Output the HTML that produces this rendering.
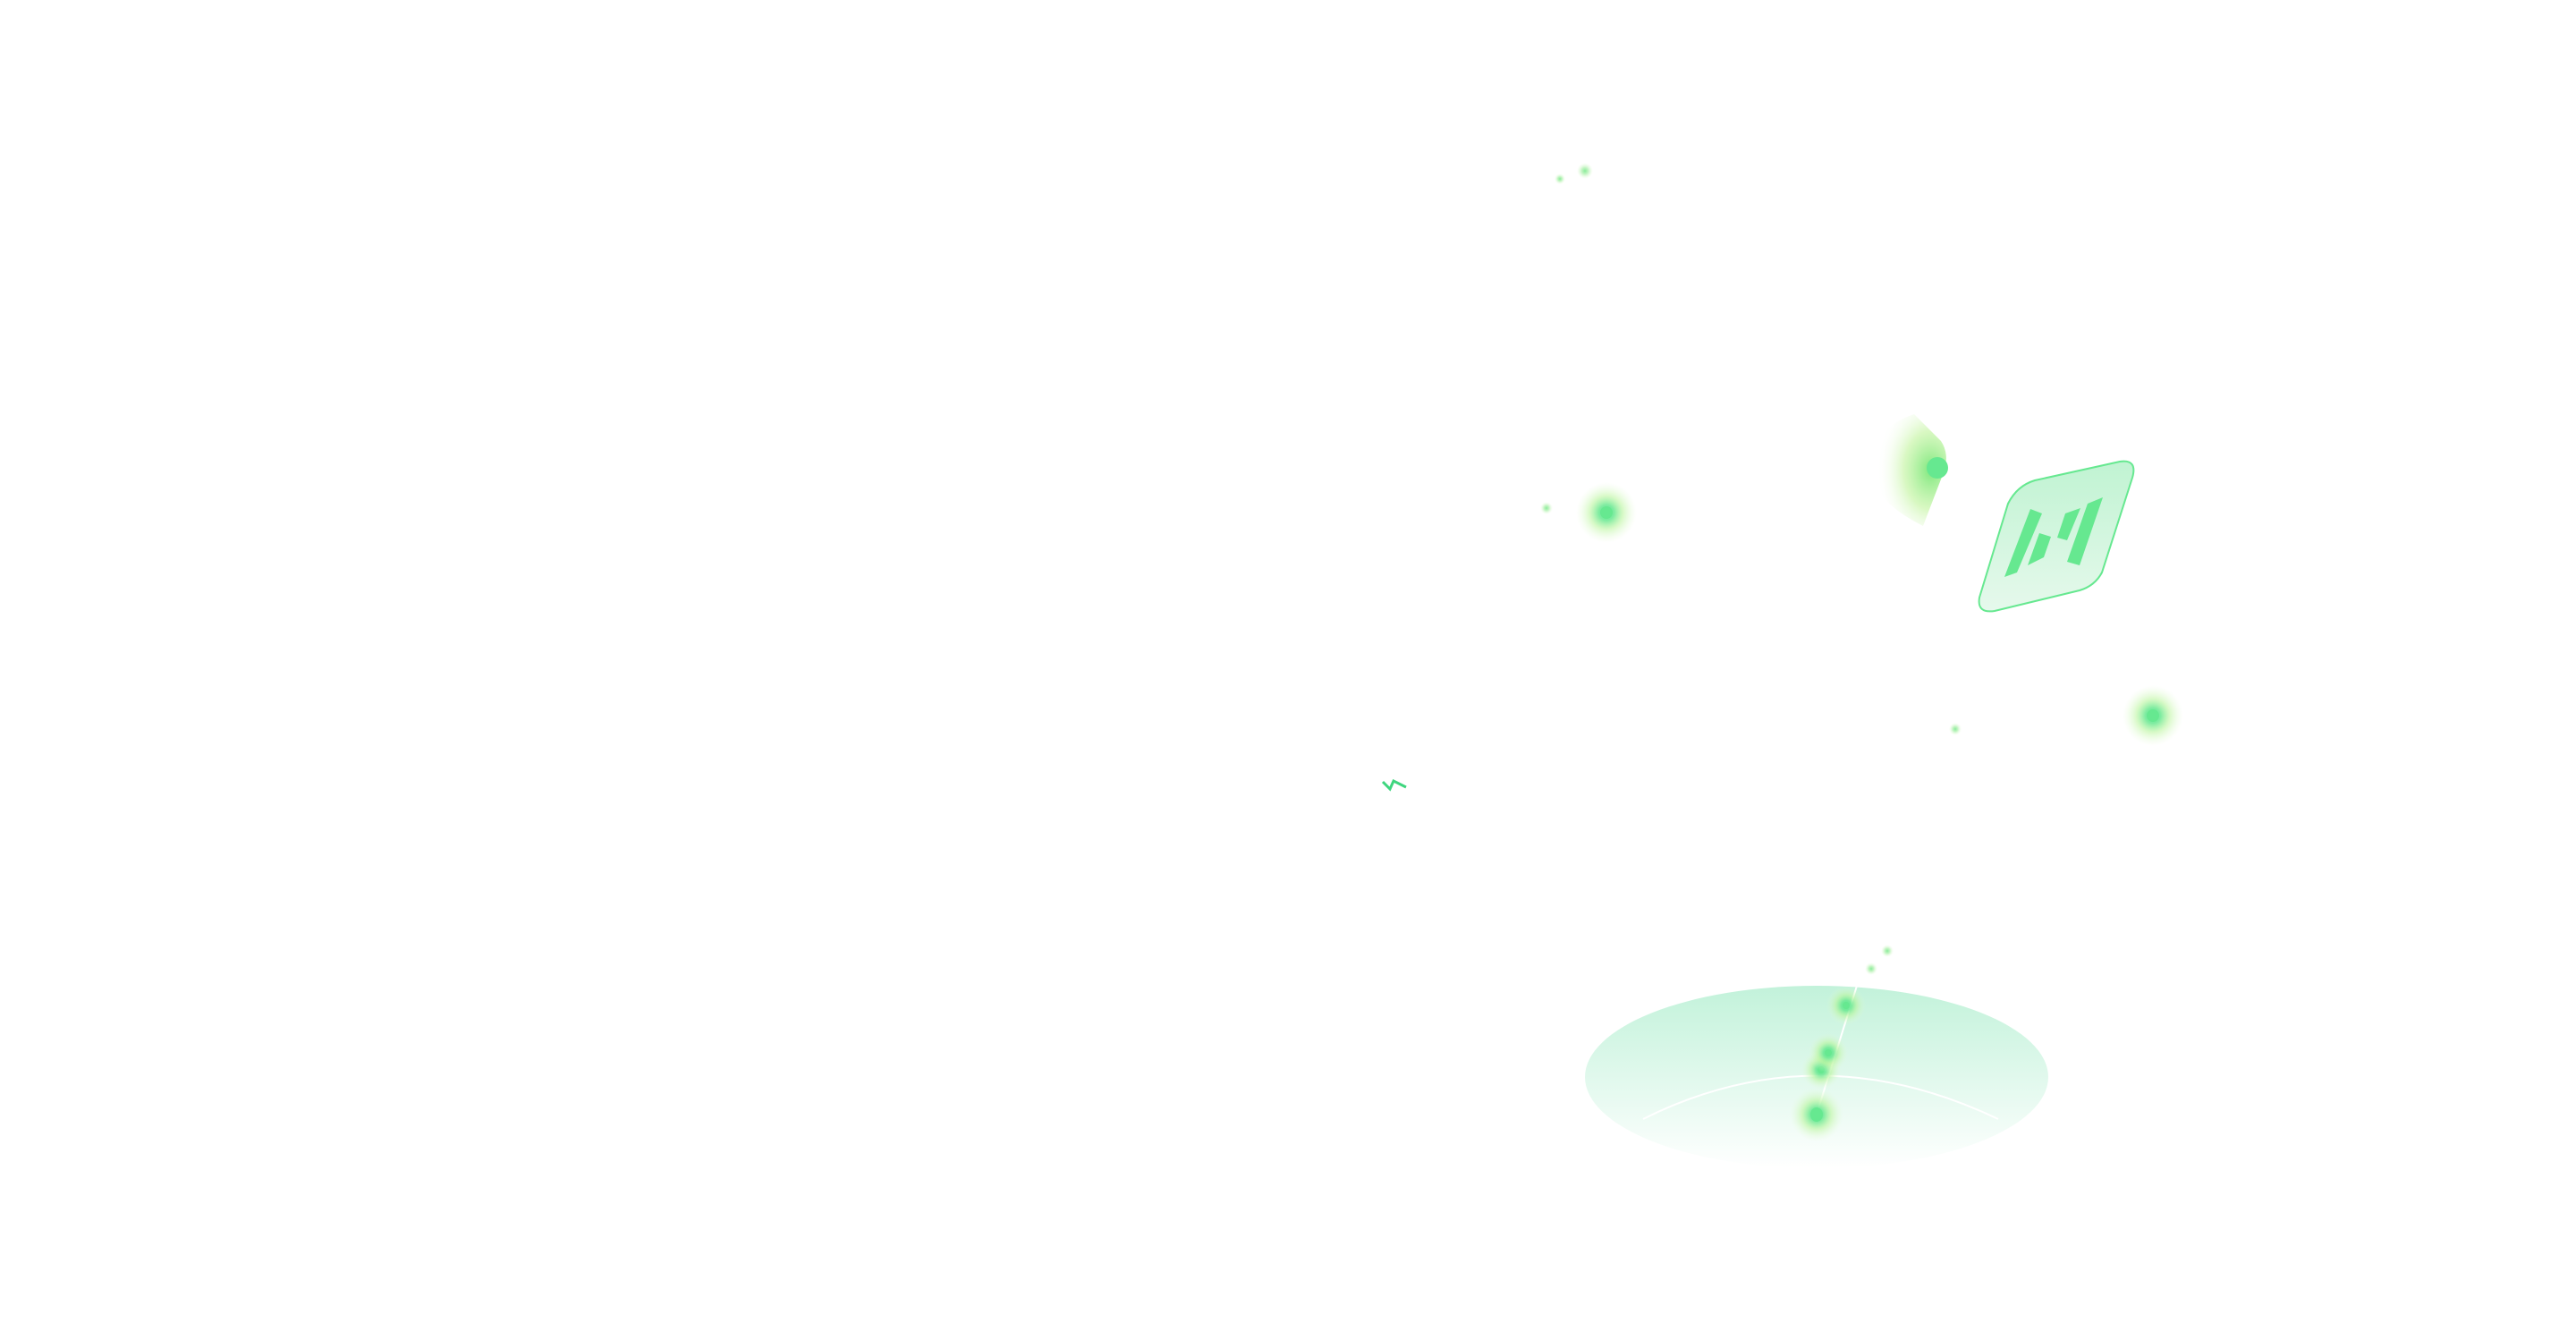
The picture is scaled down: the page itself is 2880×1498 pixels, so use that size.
<!DOCTYPE html>
<html><head><meta charset="utf-8"><style>html,body{margin:0;padding:0;background:#fff;overflow:hidden}svg{display:block}</style></head>
<body>
<svg width="2880" height="1498" viewBox="0 0 2880 1498" xmlns="http://www.w3.org/2000/svg">
<defs>
<radialGradient id="g"><stop offset="0" stop-color="#66e890"/><stop offset="0.25" stop-color="#66e890" stop-opacity="0.85"/><stop offset="0.55" stop-color="#b8f59a" stop-opacity="0.55"/><stop offset="1" stop-color="#e6fbd8" stop-opacity="0"/></radialGradient>
<radialGradient id="gs"><stop offset="0" stop-color="#88ec9c"/><stop offset="0.4" stop-color="#a8f0a8" stop-opacity="0.7"/><stop offset="1" stop-color="#e6fbd8" stop-opacity="0"/></radialGradient>
<linearGradient id="plate" x1="0" y1="0" x2="0" y2="1"><stop offset="0" stop-color="#c2f2da"/><stop offset="1" stop-color="#ffffff"/></linearGradient>
<linearGradient id="card" x1="0" y1="0" x2="0" y2="1"><stop offset="0" stop-color="#c0f3d2"/><stop offset="1" stop-color="#e6f9ec"/></linearGradient>
<radialGradient id="cone" cx="0.8" cy="0.5" r="0.7"><stop offset="0" stop-color="#7ee87e"/><stop offset="0.5" stop-color="#c8f5a8" stop-opacity="0.7"/><stop offset="1" stop-color="#fff" stop-opacity="0"/></radialGradient>
</defs>
<g transform="translate(-9,-6)">
<ellipse cx="2040" cy="1210" rx="259" ry="102" fill="url(#plate)"/>
<path d="M1846 1257 Q2040 1160 2243 1257" fill="none" stroke="#fff" stroke-width="2"/>
<line x1="2085" y1="1108" x2="2042" y2="1245" stroke="#fff" stroke-width="2"/>
<circle cx="2040" cy="1252" r="30" fill="url(#g)"/><ellipse cx="2040" cy="1252" rx="7" ry="8" fill="#66e890"/>
<circle cx="2045" cy="1202" r="22" fill="url(#g)"/><circle cx="2045" cy="1202" r="4" fill="#66e890"/>
<circle cx="2053" cy="1183" r="22" fill="url(#g)"/><circle cx="2053" cy="1183" r="4" fill="#66e890"/>
<circle cx="2073" cy="1130" r="22" fill="url(#g)"/><circle cx="2073" cy="1130" r="4" fill="#66e890"/>
<circle cx="2101" cy="1089" r="7" fill="url(#gs)"/>
<circle cx="2119" cy="1069" r="7" fill="url(#gs)"/>
</g>
<circle cx="1796" cy="573" r="34" fill="url(#g)"/><circle cx="1796" cy="573" r="7" fill="#66e890"/>
<circle cx="2407" cy="800" r="34" fill="url(#g)"/><circle cx="2407" cy="800" r="7" fill="#66e890"/>
<circle cx="1729" cy="568" r="7" fill="url(#gs)"/>
<circle cx="2186" cy="815" r="7" fill="url(#gs)"/>
<circle cx="1772" cy="191" r="9" fill="url(#gs)"/>
<circle cx="1744" cy="200" r="6" fill="url(#gs)"/>
<g transform="translate(-10,-2)">
<path d="M2150 465 L2180 495 Q2190 510 2183 530 L2160 590 Q2100 560 2100 520 Q2105 480 2150 465Z" fill="url(#cone)"/>
<circle cx="2176" cy="525" r="12" fill="#66e890"/>
</g>
<g transform="translate(-5,0)">
<path d="M2280 537 L2375 516 Q2395 513 2389 534 L2355 640 Q2347 655 2330 660 L2235 683 Q2215 686 2218 668 L2250 563 Q2260 543 2280 537Z" fill="url(#card)" stroke="#66e890" stroke-width="2"/>
<g fill="#66e890">
<polygon points="2275,569 2288,574 2260,640 2246,645"/>
<polygon points="2285,596 2298,600 2290,623 2272,632"/>
<polygon points="2314,574 2331,568 2316,604 2305,601"/>
<polygon points="2339,563 2356,556 2330,632 2316,628"/>
</g>
</g>
<g stroke="#3ed67e" stroke-width="3" fill="none"><path d="M1546 874 L1554 882 L1558 873 L1572 880"/></g>
</svg>
</body></html>
